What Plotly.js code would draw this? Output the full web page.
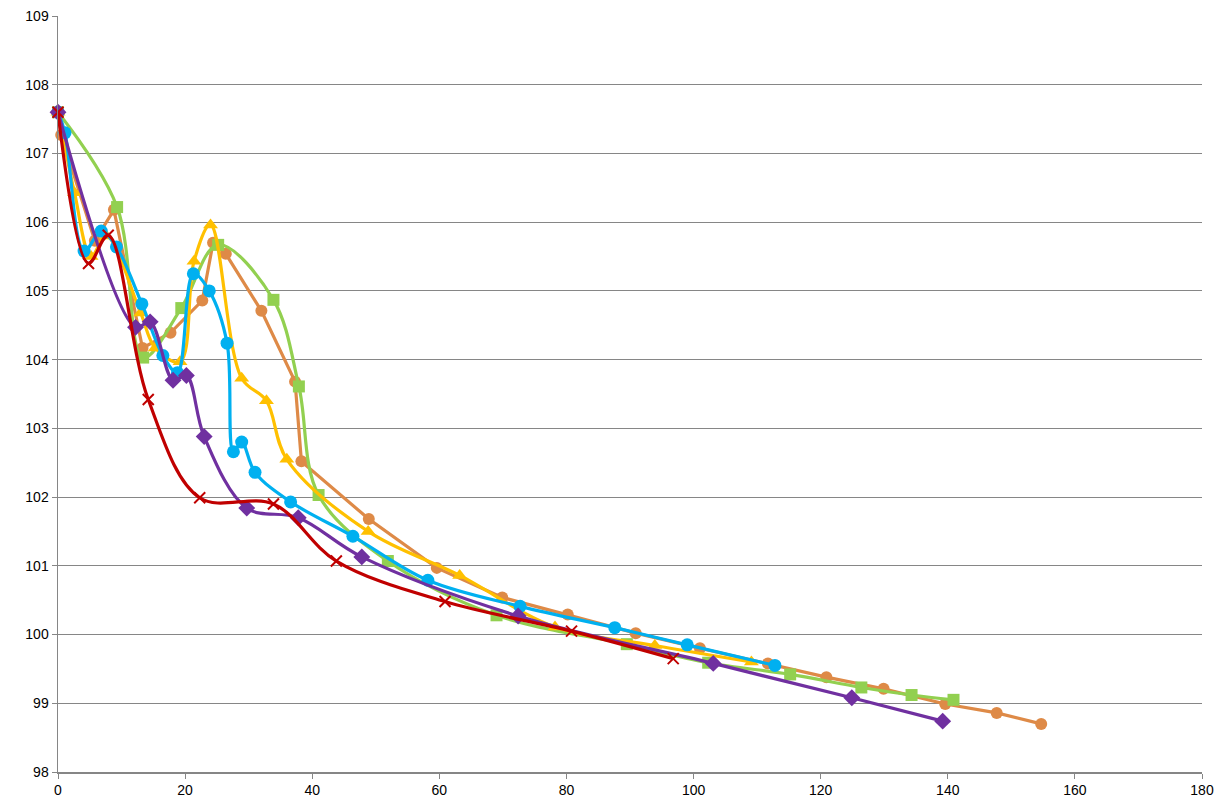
<!DOCTYPE html>
<html>
<head>
<meta charset="utf-8">
<script src="https://cdn.plot.ly/plotly-3.0.1.min.js"></script>
<style>html,body{margin:0;padding:0;background:#fff;}#chart{width:1218px;height:808px;}</style>
</head>
<body>
<div id="chart"></div>
<script>
// Series 1 (orange circles)
const orangeX = [0, 0.5, 5.8, 8.8, 13.3, 17.7, 22.7, 24.4, 26.4, 32.0, 37.3, 38.3, 48.9, 59.6, 69.9, 80.2, 90.9, 101.0, 111.7, 120.9, 129.9, 139.6, 147.7, 154.7];
const orangeY = [107.6, 107.27, 105.73, 106.18, 104.17, 104.39, 104.86, 105.70, 105.54, 104.71, 103.68, 102.52, 101.68, 100.97, 100.54, 100.29, 100.02, 99.80, 99.58, 99.38, 99.21, 98.99, 98.86, 98.70];
// Series 2 (green squares)
const greenX = [0, 9.3, 13.4, 19.4, 25.2, 33.9, 37.9, 41.0, 51.9, 69.0, 89.5, 102.3, 115.2, 126.4, 134.3, 140.9];
const greenY = [107.6, 106.22, 104.03, 104.75, 105.67, 104.87, 103.61, 102.03, 101.07, 100.28, 99.86, 99.59, 99.42, 99.23, 99.12, 99.05];
// Series 3 (yellow triangles)
const yellowX = [0, 2.6, 5.2, 7.6, 13.0, 15.3, 19.2, 21.4, 24.0, 28.9, 32.8, 36.0, 48.8, 63.2, 78.2, 93.9, 109.1];
const yellowY = [107.6, 106.43, 105.50, 105.80, 104.68, 104.17, 103.97, 105.43, 105.96, 103.73, 103.40, 102.55, 101.50, 100.86, 100.11, 99.84, 99.60];
// Series 4 (blue circles)
const blueX = [0, 1.1, 4.1, 6.8, 9.2, 13.2, 16.5, 18.8, 21.3, 23.8, 26.6, 27.6, 28.9, 31.0, 36.6, 46.4, 58.2, 72.7, 87.6, 99.0, 112.8];
const blueY = [107.6, 107.30, 105.58, 105.87, 105.64, 104.81, 104.06, 103.81, 105.25, 105.00, 104.24, 102.66, 102.80, 102.36, 101.93, 101.43, 100.79, 100.41, 100.10, 99.85, 99.55];
// Series 5 (purple diamonds)
const purpleX = [0, 12.2, 14.5, 18.1, 20.2, 23.0, 29.7, 37.8, 47.8, 72.4, 103.1, 124.9, 139.2];
const purpleY = [107.6, 104.47, 104.55, 103.70, 103.77, 102.88, 101.84, 101.70, 101.13, 100.27, 99.58, 99.08, 98.74];
// Series 6 (red crosses)
const redX = [0, 4.8, 7.9, 14.2, 22.3, 33.9, 43.8, 60.9, 80.8, 96.8];
const redY = [107.6, 105.40, 105.81, 103.42, 101.99, 101.90, 101.07, 100.48, 100.05, 99.65];

function series(x, y, color, symbol, size, shape) {
  const m = {symbol: symbol, size: size, color: color};
  if (symbol === 'x-thin') m.line = {color: color, width: 2};
  const ln = {color: color, width: 3.2, shape: shape};
  if (shape === 'spline') ln.smoothing = 1;
  return {x: x, y: y, type: 'scatter', mode: 'lines+markers',
    line: ln, marker: m, hoverinfo: 'x+y', cliponaxis: false};
}

const data = [
  series(orangeX, orangeY, '#DE8A47', 'circle', 12, 'linear'),
  series(greenX, greenY, '#92D050', 'square', 12, 'spline'),
  series(yellowX, yellowY, '#FFC000', 'triangle-up', 13, 'spline'),
  series(blueX, blueY, '#00B0F0', 'circle', 13, 'spline'),
  series(purpleX, purpleY, '#7030A0', 'diamond', 13, 'spline'),
  series(redX, redY, '#C00000', 'x-thin', 11, 'spline')
];

const tickFont = {family: '"Liberation Sans Narrow", "Liberation Sans", Arial, sans-serif', size: 14, color: '#000'};
const layout = {
  width: 1218, height: 808,
  margin: {l: 58, r: 16, t: 16, b: 36},
  paper_bgcolor: '#fff', plot_bgcolor: '#fff',
  showlegend: false,
  xaxis: {range: [0, 180], dtick: 20, tick0: 0, showgrid: false, zeroline: false,
    showline: true, linecolor: '#868686', linewidth: 1.5,
    ticks: 'outside', ticklen: 5, tickcolor: '#868686', tickfont: tickFont},
  yaxis: {range: [98, 109], dtick: 1, tick0: 98, showgrid: true, gridcolor: '#868686', gridwidth: 1,
    zeroline: false, showline: true, linecolor: '#868686', linewidth: 1.5,
    ticks: 'outside', ticklen: 5, tickcolor: '#868686', tickfont: tickFont}
};
Plotly.newPlot('chart', data, layout, {displayModeBar: false, staticPlot: true});
</script>
</body>
</html>
